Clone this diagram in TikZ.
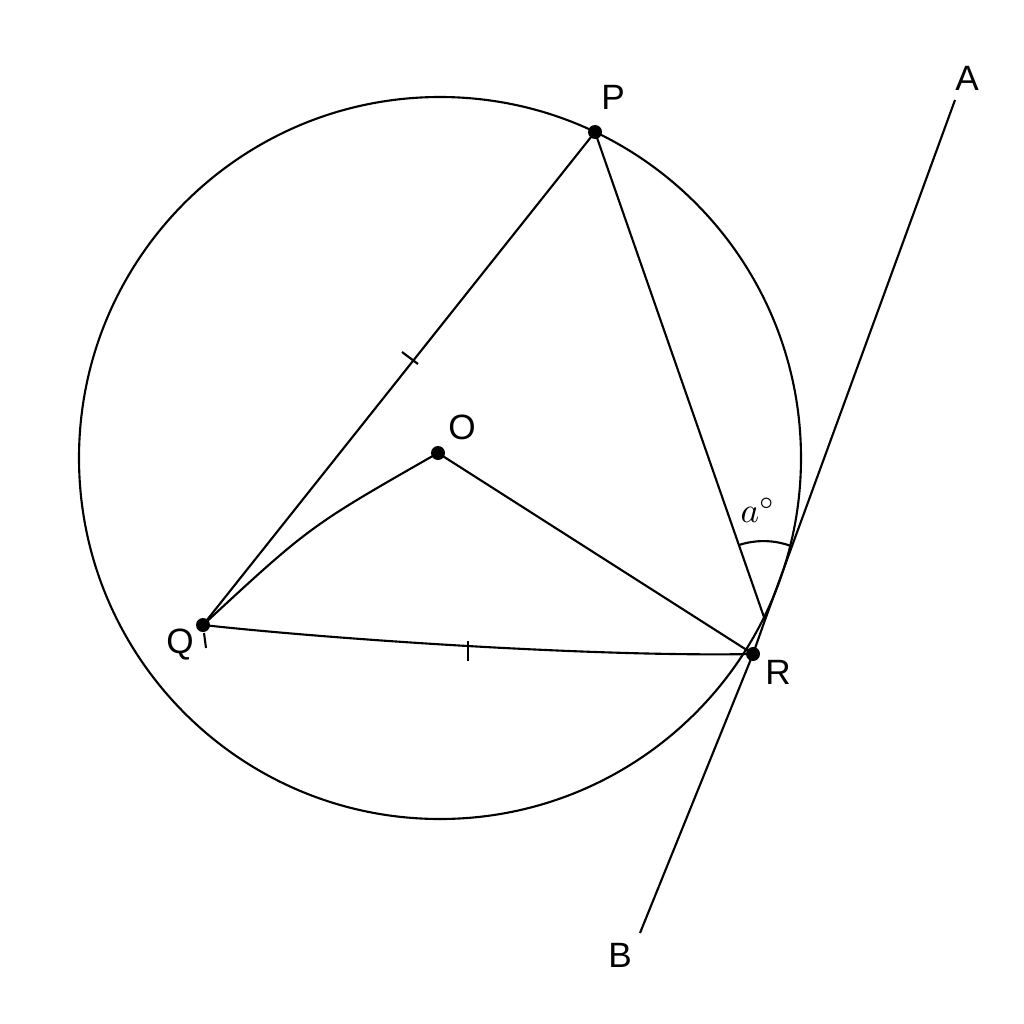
\documentclass[tikz,border=0pt]{standalone}
\usepackage{fontspec}
\setsansfont{Liberation Sans}
\begin{document}
\begin{tikzpicture}[x=0.01cm,y=-0.01cm,
  ln/.style={line width=0.6pt,black},
  dotfill/.style={fill=black},
  lbl/.style={font=\sffamily\fontsize{10}{11}\selectfont,inner sep=0pt}]
\useasboundingbox[fill=white] (0,0) rectangle (1024,1024);
% points
\coordinate (C) at (440,458);
\coordinate (P) at (595,132);
\coordinate (Q) at (203,625);
\coordinate (R) at (753,654);
\coordinate (O) at (438,453);
\coordinate (V) at (765,620);
\coordinate (Aend) at (955,100);
\coordinate (Bend) at (640,933);
\coordinate (Qt1) at (204,633);
\coordinate (Qt2) at (206,648);
% circle
\draw[ln] (C) circle[radius=361];
% tangent line
\draw[ln] (Aend) -- (V) -- (R) -- (Bend);
% triangle and radii
\draw[ln] (P) -- (Q);
\draw[ln] (P) -- (V);
\draw[ln] (O) -- (R);
\draw[ln] (Q) .. controls (310,526) .. (O);
\draw[ln] (Q) .. controls (340,640) and (600,657) .. (R);
\draw[ln] (Qt1) -- (Qt2);
% ticks
\draw[ln] (402,352) -- (418,364);
\draw[ln] (468,641) -- (468,661);
% angle arc
\draw[ln] (739,545) arc[start angle=251.9,end angle=290,radius=79];
% dots
\fill[dotfill] (P) circle[radius=7];
\fill[dotfill] (Q) circle[radius=7];
\fill[dotfill] (R) circle[radius=7];
\fill[dotfill] (O) circle[radius=7];
% labels
\node[lbl] (lP) at (613,97) {P};
\node[lbl] (lQ) at (180,645) {Q};
\node[lbl] (lR) at (778,672) {R};
\node[lbl] (lO) at (462,427) {O};
\node[lbl] (lA) at (967,78) {A};
\node[lbl] (lB) at (620,955) {B};
\node[inner sep=0pt,font=\fontsize{10}{11}\selectfont] (la) at (758,510) {$a^\circ$};
\end{tikzpicture}
\end{document}
